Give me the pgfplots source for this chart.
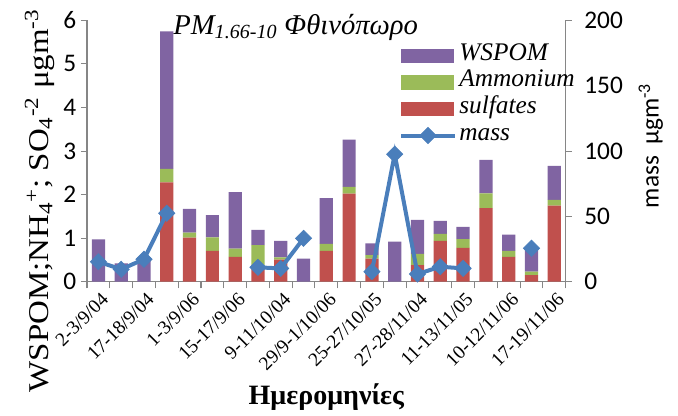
\documentclass[border=0pt]{standalone}
\usepackage{pgfplots}
\pgfplotsset{compat=1.18}
\usepackage{pgfplotstable}
\usepackage{fontspec}
\setmainfont{Liberation Serif}
\newfontfamily\calibri{Carlito}
\newfontfamily\wideserif[FakeStretch=1.15]{Liberation Serif}
\definecolor{cpurple}{HTML}{8064A2}
\definecolor{cgreen}{HTML}{9BBB59}
\definecolor{cred}{HTML}{C0504D}
\definecolor{cblue}{HTML}{4A7EBB}
\definecolor{caxis}{HTML}{868686}
\pgfplotstableread{
x S A W M
0 0 0 0.97 15.3
1 0 0 0.42 9.5
2 0 0 0.56 17.2
3 2.28 0.31 3.16 52.4
4 1.01 0.12 0.54 nan
5 0.71 0.31 0.51 nan
6 0.57 0.19 1.30 nan
7 0.30 0.54 0.35 11.0
8 0.51 0.05 0.38 10.2
9 0 0 0.53 33.2
10 0.71 0.16 1.05 nan
11 2.02 0.16 1.08 nan
12 0.53 0.08 0.27 7.7
13 0 0 0.92 97.6
14 0.38 0.26 0.78 5.9
15 0.94 0.16 0.30 11.5
16 0.78 0.20 0.28 10.2
17 1.69 0.34 0.77 nan
18 0.57 0.14 0.37 nan
19 0.15 0.08 0.55 25.6
20 1.75 0.13 0.78 nan
}\data
\pgfplotsset{
  common/.style={
    width=359pt, height=196pt, scale only axis,
    xmin=-0.5, xmax=20.5,
    axis line style={caxis, line width=0.8pt},
    tick style={caxis, line width=0.8pt},
    tick align=outside,
    major tick length=4.5pt,
  },
  masslegend/.style={legend image code/.code={\path (0pt,-6.5pt) (39pt,6.5pt);\draw[cblue, line width=3pt] (0pt,0pt) -- (40pt,0pt);\draw[mark repeat=2,mark phase=2,##1] plot coordinates {(0pt,0pt) (20pt,0pt) (40pt,0pt)};}},
  boxlegend/.style={legend image code/.code={\path (0pt,-6.5pt) (39pt,6.5pt);\fill[#1] (0pt,-5pt) rectangle (39pt,5pt);}},
}
\begin{document}
\begin{tikzpicture}
\begin{axis}[common, name=main, clip=false,
  ymin=0, ymax=6, ytick={0,1,...,6},
  axis y line*=left, axis x line*=bottom,
  ybar stacked, bar width=0.58,
  yticklabel style={font=\calibri\fontsize{19}{22}\selectfont, /pgf/number format/assume math mode=true},
  xtick={0,2,...,20},
  xticklabels={2-3/9/04,17-18/9/04,1-3/9/06,15-17/9/06,9-11/10/04,29/9-1/10/06,25-27/10/05,27-28/11/04,11-13/11/05,10-12/11/06,17-19/11/06},
  xticklabel style={font=\fontsize{14.5}{16}\selectfont, rotate=45, anchor=north east, inner sep=1pt, yshift=-2pt},
  major x tick style={draw=none},
  minor xtick={-0.5,0.5,...,20.5},
  minor tick length=5pt,
  minor tick style={caxis, line width=0.8pt},
  xlabel={\bfseries Ημερομηνίες},
  xlabel style={font=\fontsize{21}{23}\selectfont, yshift=-4pt},
  ylabel={WSPOM;NH\textsubscript{4}\textsuperscript{+}; SO\textsubscript{4}\textsuperscript{-2} μgm\textsuperscript{-3}},
  ylabel style={font=\wideserif\fontsize{21.5}{23}\selectfont, at={(ticklabel cs:0.31)}, yshift=0pt},
]
\addplot[fill=cred, draw=none] table[x=x, y=S] {\data};
\addplot[fill=cgreen, draw=none] table[x=x, y=A] {\data};
\addplot[fill=cpurple, draw=none] table[x=x, y=W] {\data};
\node[font=\itshape\fontsize{21.5}{24}\selectfont] at (rel axis cs:0.436,0.972) {PM\textsubscript{1.66-10} Φθινόπωρο};
\end{axis}
\begin{axis}[common,
  ymin=0, ymax=200, ytick={0,50,...,200},
  axis y line*=right, axis x line=none,
  yticklabel style={font=\calibri\fontsize{19}{22}\selectfont, /pgf/number format/assume math mode=true, xshift=6pt},
  ylabel={\calibri mass\ \ μgm\textsuperscript{-3}},
  ylabel style={font=\fontsize{19}{22}\selectfont, yshift=-5pt, at={(ticklabel cs:0.52)}},
  unbounded coords=jump,
  legend style={at={(rel axis cs:0.652,0.91)}, anchor=north west, draw=none, fill=none,
    font=\itshape\fontsize{19}{21}\selectfont, inner sep=0pt, row sep=3pt,
    nodes={text height=10pt, text depth=3pt},
    /tikz/every even column/.append style={column sep=0pt}},
  legend cell align=left,
]
\addlegendimage{boxlegend=cpurple}
\addlegendentry{WSPOM}
\addlegendimage{boxlegend=cgreen}
\addlegendentry{Ammonium}
\addlegendimage{boxlegend=cred}
\addlegendentry{sulfates}
\addplot[cblue, line width=3pt, mark=square*, mark size=4.3pt,
  mark options={solid, fill=cblue, draw=cblue, line width=0.5pt, rotate=45},
  masslegend] table[x=x, y=M] {\data};
\addlegendentry{mass}
\end{axis}
\pgfresetboundingbox
\path[use as bounding box] (main.south west) ++(-65.25pt,-100.7pt) rectangle ++(508.5pt,312pt);
\end{tikzpicture}
\end{document}
